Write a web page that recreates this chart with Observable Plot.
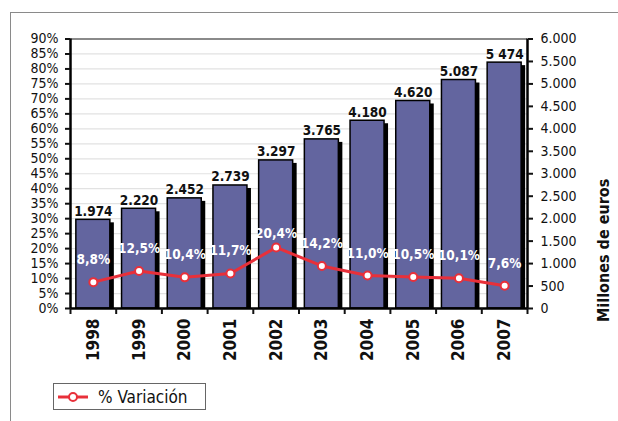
<!DOCTYPE html>
<html>
<head>
<meta charset="utf-8">
<script src="https://cdn.jsdelivr.net/npm/d3@7"></script>
<script src="https://cdn.jsdelivr.net/npm/@observablehq/plot@0.6"></script>
<style>
  html, body { margin: 0; padding: 0; background: white; }
  #wrap { position: relative; width: 618px; height: 421px; overflow: hidden; font-family: "DejaVu Sans Condensed", "DejaVu Sans", sans-serif; }
  #frame { position: absolute; left: 10px; top: 12px; width: 700px; height: 500px; border: 1.5px solid #8a8a8a; box-sizing: border-box; }
  #chart { position: absolute; left: 0; top: 0; }
  #legend { position: absolute; left: 53px; top: 383px; width: 153px; height: 27px; border: 1px solid #666; box-sizing: border-box; background: white; display: flex; align-items: center; }
  #legend span { font-size: 17px; color: #111; margin-left: 4px; }
</style>
</head>
<body>
<div id="wrap">
  <div id="frame"></div>
  <div id="chart"></div>
  <div id="legend">
    <svg width="40" height="20"><line x1="4" y1="10" x2="34" y2="10" stroke="#e8303a" stroke-width="3"/><circle cx="19" cy="10" r="4" fill="white" stroke="#e8303a" stroke-width="2"/></svg>
    <span>% Variación</span>
  </div>
</div>
<script>
const years = [1998, 1999, 2000, 2001, 2002, 2003, 2004, 2005, 2006, 2007];
const values = [1974, 2220, 2452, 2739, 3297, 3765, 4180, 4620, 5087, 5474];
const valueLabels = ["1.974", "2.220", "2.452", "2.739", "3.297", "3.765", "4.180", "4.620", "5.087", "5 474"];
const pctChange = [8.8, 12.5, 10.4, 11.7, 20.4, 14.2, 11.0, 10.5, 10.1, 7.6];
const pctTicks = d3.range(0, 91, 5);
const euroTicks = d3.range(0, 6001, 500);
const pctMax = 90, euroMax = 6000;
const k = pctMax / euroMax;

const data = years.map((year, i) => ({
  year, value: values[i], v: values[i] * k, label: valueLabels[i],
  pct: pctChange[i], pctLabel: pctChange[i].toFixed(1).replace(".", ",") + "%"
}));
const bounds = [years[0] - 0.5, ...years.map(y => y + 0.5)];
const hw = 0.372;
const red = "#e8303a";
const barFill = "#63659f";
const topPct = d3.max(pctChange);

const plot = Plot.plot({
  width: 618,
  height: 421,
  marginLeft: 70,
  marginRight: 91,
  marginTop: 38.5,
  marginBottom: 113,
  style: { background: "none", fontFamily: "'DejaVu Sans Condensed', 'DejaVu Sans', sans-serif", color: "#111" },
  x: { type: "linear", domain: [bounds[0], bounds[bounds.length - 1]] },
  y: { domain: [0, pctMax] },
  marks: [
    Plot.ruleY(pctTicks.filter(d => d > 0 && d < pctMax), { stroke: "#e2e2e2", strokeWidth: 1.2 }),
    Plot.ruleY([pctMax], { stroke: "#8a8a8a", strokeWidth: 2 }),
    Plot.rect(data, { x1: d => d.year - hw, x2: d => d.year + hw, y1: 0, y2: "v", fill: "black", dx: 4, dy: 3, insetBottom: 3 }),
    Plot.rect(data, { x1: d => d.year - hw, x2: d => d.year + hw, y1: 0, y2: "v", fill: barFill, stroke: "black", strokeWidth: 1.5 }),
    Plot.text(data, { x: "year", y: "v", text: "label", dy: -4, lineAnchor: "bottom", fontWeight: "bold", fontSize: 13.5, fill: "#111" }),
    Plot.line(data, { x: "year", y: "pct", stroke: red, strokeWidth: 3 }),
    Plot.dot(data, { x: "year", y: "pct", r: 4, fill: "white", stroke: red, strokeWidth: 2 }),
    Plot.text(data.filter(d => d.pct !== topPct), { x: "year", y: "pct", text: "pctLabel", dy: -18, lineAnchor: "bottom", fontWeight: "bold", fontSize: 13.5, fill: "white" }),
    Plot.text(data.filter(d => d.pct === topPct), { x: "year", y: "pct", text: "pctLabel", dy: -9, lineAnchor: "bottom", fontWeight: "bold", fontSize: 13.5, fill: "white" }),
    Plot.ruleY([0], { stroke: "black", strokeWidth: 2.5 }),
    Plot.ruleX([bounds[0]], { y1: 0, y2: pctMax, stroke: "black", strokeWidth: 2.5 }),
    Plot.ruleX([bounds[bounds.length - 1]], { y1: 0, y2: pctMax, stroke: "black", strokeWidth: 2.5 }),
    Plot.axisY(pctTicks, { anchor: "left", tickSize: 5, tickPadding: 7, strokeWidth: 2, fontSize: 14, tickFormat: d => d + "%", label: null }),
    Plot.axisY(euroTicks.map(v => v * k), { anchor: "right", tickSize: 5, tickPadding: 8, strokeWidth: 2, fontSize: 14, tickFormat: d => d3.format(",")(Math.round(d / k)).replace(/,/g, "."), label: null }),
    Plot.axisX(bounds, { anchor: "bottom", tickSize: 6, strokeWidth: 2, tickFormat: () => "", label: null }),
    Plot.axisX(years, { anchor: "bottom", tickSize: 0, tickPadding: 10, tickRotate: -90, fontSize: 17, fontWeight: "bold", tickFormat: d => String(d), label: null }),
    Plot.text(["Millones de euros"], { frameAnchor: "right", dx: 76, dy: 5, rotate: -90, fontWeight: "bold", fontSize: 16, fill: "#111" })
  ]
});
document.getElementById("chart").appendChild(plot);
</script>
</body>
</html>
